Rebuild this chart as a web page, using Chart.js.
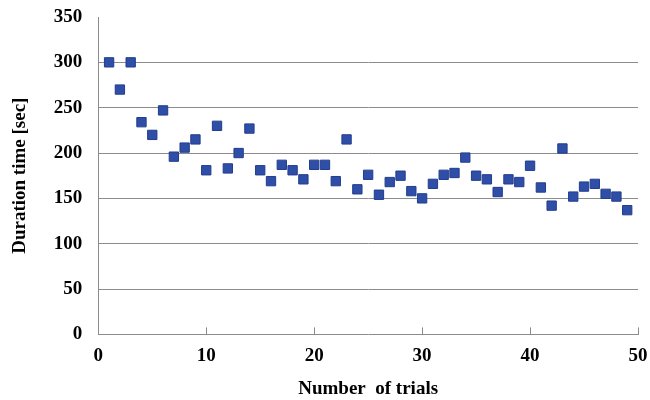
<!DOCTYPE html>
<html>
<head>
<meta charset="utf-8">
<script src="https://cdn.jsdelivr.net/npm/chart.js@4/dist/chart.umd.min.js"></script>
<style>
  html, body { margin: 0; padding: 0; background: #fff; }
  #wrap { width: 650px; height: 400px; }
</style>
</head>
<body>
<div id="wrap"><canvas id="trialsChart"></canvas></div>
<script>
const trials = [
  1, 2, 3, 4, 5, 6, 7, 8, 9, 10,
  11, 12, 13, 14, 15, 16, 17, 18, 19, 20,
  21, 22, 23, 24, 25, 26, 27, 28, 29, 30,
  31, 32, 33, 34, 35, 36, 37, 38, 39, 40,
  41, 42, 43, 44, 45, 46, 47, 48, 49
];
const durations = [
  300, 270, 300, 234, 220, 247, 196, 206, 215, 181,
  230, 183, 200, 227, 181, 169, 187, 181, 171, 187,
  187, 169, 215, 160, 176, 154, 168, 175, 158, 150,
  166, 176, 178, 195, 175, 171, 157, 171, 168, 186,
  162, 142, 205, 152, 163, 166, 155, 152, 137
];
const xTicks = [0, 10, 20, 30, 40, 50];
const yTicks = [0, 50, 100, 150, 200, 250, 300, 350];

const axisFont = { family: "'Liberation Serif', 'Times New Roman', serif", size: 19, weight: "bold" };
const gridGray = "#8c8c8c";

// Excel-style tick marks pointing up into the plot
const innerTicks = {
  id: "innerTicks",
  afterDatasetsDraw(chart) {
    const { ctx, chartArea, scales } = chart;
    ctx.save();
    ctx.strokeStyle = gridGray;
    ctx.lineWidth = 1;
    xTicks.slice(1).forEach(v => {
      const px = Math.round(scales.x.getPixelForValue(v)) + 0.5;
      ctx.beginPath();
      ctx.moveTo(px, chartArea.bottom);
      ctx.lineTo(px, chartArea.bottom - 7);
      ctx.stroke();
    });
    ctx.restore();
  }
};

const data = trials.map((t, i) => ({ x: t, y: durations[i] }));

new Chart(document.getElementById("trialsChart"), {
  type: "scatter",
  data: {
    datasets: [{
      data: data,
      pointStyle: "rect",
      pointRadius: 6.6,
      pointHoverRadius: 6.6,
      backgroundColor: "#2f4ea8",
      borderColor: "#233d8c",
      borderWidth: 1
    }]
  },
  plugins: [innerTicks],
  options: {
    responsive: true,
    maintainAspectRatio: false,
    animation: false,
    layout: { padding: { top: 0, right: 0, left: 9, bottom: 0 } },
    plugins: {
      legend: { display: false },
      tooltip: { enabled: false }
    },
    scales: {
      x: {
        type: "linear",
        min: 0,
        max: 50,
        afterBuildTicks: axis => { axis.ticks = xTicks.map(v => ({ value: v })); },
        // the scale's own padding sets the gutters, so pin them here
        afterFit: axis => { axis.paddingRight = 12; },
        grid: { display: false, drawTicks: false },
        border: { display: true, color: gridGray, width: 1 },
        ticks: { color: "#000", font: axisFont, padding: 10, maxRotation: 0 },
        title: { display: true, text: "Number  of trials", color: "#000", font: axisFont, padding: { top: 0, bottom: 0 } }
      },
      y: {
        type: "linear",
        min: 0,
        max: 350,
        afterBuildTicks: axis => { axis.ticks = yTicks.map(v => ({ value: v })); },
        afterFit: axis => { axis.paddingTop = 17; },
        grid: {
          drawTicks: false,
          color: ctx => (ctx.tick && (ctx.tick.value === 0 || ctx.tick.value === 350)) ? "rgba(0,0,0,0)" : gridGray,
          lineWidth: 1
        },
        border: { display: true, color: gridGray, width: 1 },
        ticks: { color: "#000", font: axisFont, padding: 16 },
        title: { display: true, text: "Duration time [sec]", color: "#000", font: axisFont, padding: { top: 0, bottom: 6 } }
      }
    }
  }
});
</script>
</body>
</html>
